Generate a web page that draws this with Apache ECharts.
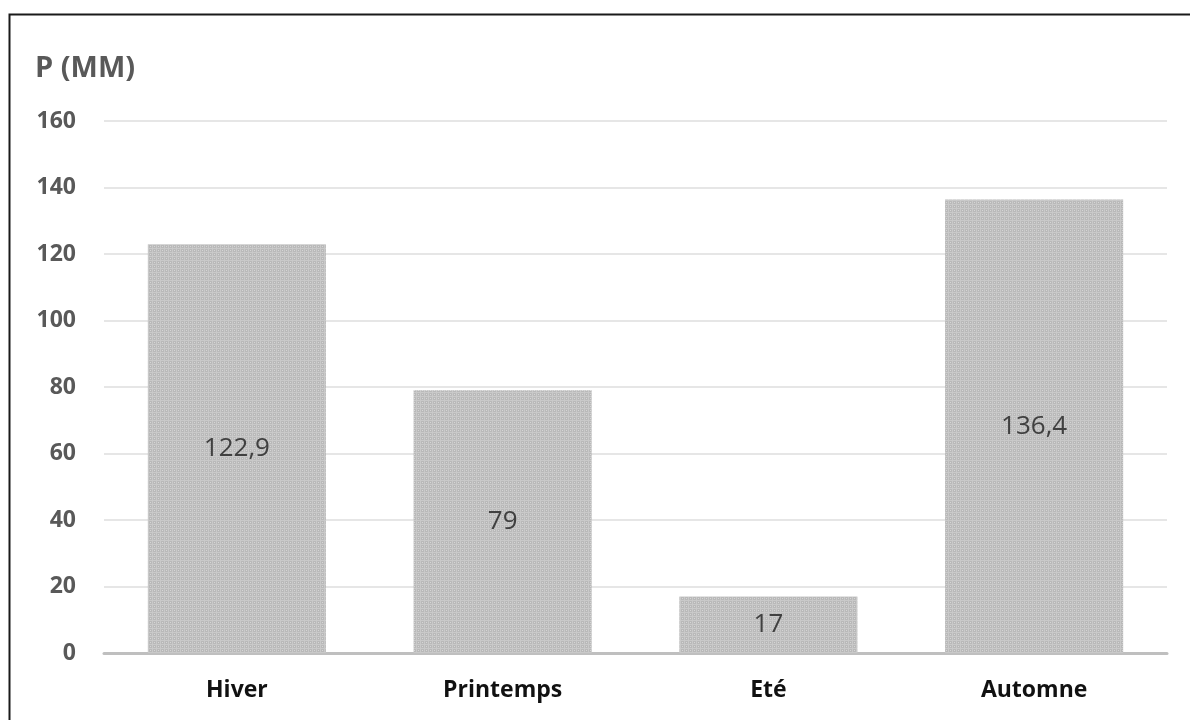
<!DOCTYPE html>
<html>
<head>
<meta charset="utf-8">
<style>
  html, body { margin: 0; padding: 0; background: #ffffff; }
  #chart { width: 1190px; height: 720px; }
</style>
<script src="https://cdn.jsdelivr.net/npm/echarts@6/dist/echarts.min.js"></script>
</head>
<body>
<div id="chart"></div>
<script>
// Seasonal precipitation (mm)
const seasons = ['Hiver', 'Printemps', 'Eté', 'Automne'];
const precipitation = [122.9, 79, 17, 136.4];
const yTicks = { min: 0, max: 160, interval: 20 };
const yTitle = 'P (MM)';

// Small dotted fill used for the bars
function dottedPattern() {
  const c = document.createElement('canvas');
  c.width = 4; c.height = 4;
  const g = c.getContext('2d');
  g.fillStyle = '#b9b9b9';
  g.fillRect(0, 0, 4, 4);
  g.fillStyle = '#c9c9c9';
  g.fillRect(0, 0, 1, 4);
  g.fillRect(0, 0, 4, 1);
  g.fillStyle = '#d6d6d6';
  g.fillRect(2, 2, 1, 1);
  return c;
}

const chart = echarts.init(document.getElementById('chart'), null, { renderer: 'canvas' });

const fmt = v => String(v).replace('.', ',');
const font = '"Open Sans", sans-serif';

chart.setOption({
  backgroundColor: '#ffffff',
  animation: false,
  graphic: [
    {
      type: 'rect',
      shape: { x: 9.5, y: 14.5, width: 1200, height: 720 },
      style: { fill: 'none', stroke: '#1a1a1a', lineWidth: 2 },
      z: 100
    },
    {
      type: 'text',
      left: 35, top: 54,
      style: {
        text: yTitle,
        font: 'bold 29px "Open Sans", sans-serif',
        fill: '#595959'
      }
    }
  ],
  grid: { left: 104, right: 23, top: 121, bottom: 67 },
  xAxis: {
    type: 'category',
    data: seasons,
    axisLine: { show: true, lineStyle: { color: '#bfbfbf', width: 3 } },
    axisTick: { show: false },
    axisLabel: {
      color: '#111111',
      fontFamily: font,
      fontWeight: 'bold',
      fontSize: 23,
      margin: 26
    }
  },
  yAxis: {
    type: 'value',
    min: yTicks.min,
    max: yTicks.max,
    interval: yTicks.interval,
    axisLine: { show: false },
    axisTick: { show: false },
    splitLine: { lineStyle: { color: '#e6e6e6', width: 2 } },
    axisLabel: {
      color: '#595959',
      fontFamily: font,
      fontWeight: 'bold',
      fontSize: 23,
      margin: 28
    }
  },
  series: [{
    type: 'bar',
    data: precipitation,
    barCategoryGap: '33%',
    itemStyle: {
      color: { image: dottedPattern(), repeat: 'repeat' }
    },
    label: {
      show: true,
      position: 'inside',
      color: '#404040',
      fontFamily: font,
      fontSize: 26,
      formatter: p => fmt(p.value)
    }
  }]
});
</script>
</body>
</html>
